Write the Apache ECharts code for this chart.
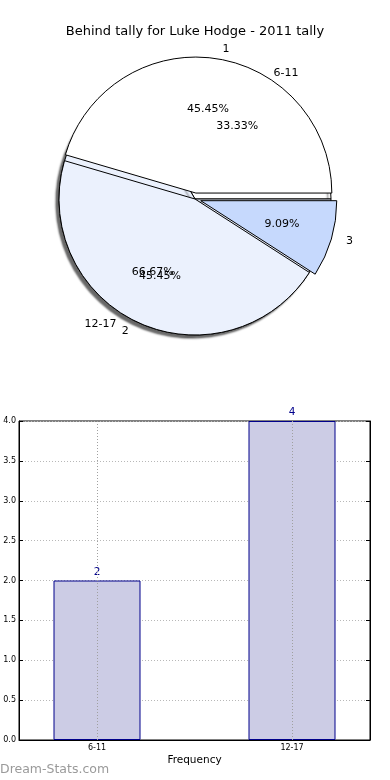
<!DOCTYPE html>
<html>
<head>
<meta charset="utf-8">
<script src="https://cdn.jsdelivr.net/npm/echarts@6/dist/echarts.min.js"></script>
<style>
html,body{margin:0;padding:0;background:#fff;}
#c{width:390px;height:780px;}
</style>
</head>
<body>
<div id="c"></div>
<script>
// Pie A: behind tally per game
var pieANames = ['1', '2', '3'];
var pieAValues = [5, 5, 1];
var pieAExplode = [true, false, true];
// Pie B: frequency groups
var groupNames = ['6-11', '12-17'];
var groupValues = [2, 4];
// Bar chart
var barPositions = [0, 1];
var yTicks = [0, 0.5, 1, 1.5, 2, 2.5, 3, 3.5, 4];

var pieColors = ['#ffffff', '#ebf1fd', '#c6d9fd'];
var FONT = 'DejaVu Sans';
var CX = 195, CY = 199, R = 136;
var YMIN = yTicks[0], YMAX = yTicks[yTicks.length - 1];

function pct(v, arr) {
  var s = arr.reduce(function (a, b) { return a + b; }, 0);
  return (v / s * 100).toFixed(2) + '%';
}

var pieBData = groupNames.map(function (n, i) {
  return { name: n, value: groupValues[i], itemStyle: { color: pieColors[i] } };
});
var pieAData = pieANames.map(function (n, i) {
  return { name: n, value: pieAValues[i], selected: pieAExplode[i], itemStyle: { color: pieColors[i] } };
});

var outsideLabel = {
  show: true, position: 'outside', formatter: '{b}', color: '#000',
  fontFamily: FONT, fontSize: 11
};
var commonPie = {
  type: 'pie', center: [CX, CY], startAngle: 0, clockwise: false,
  avoidLabelOverlap: false, animation: false, silent: true,
  labelLine: { show: false, length: 9, length2: 1 },
  labelLayout: { hideOverlap: false },
  emphasis: { disabled: true }
};

var option = {
  animation: false,
  title: {
    text: 'Behind tally for Luke Hodge - 2011 tally',
    left: 'center', top: 20,
    textStyle: { fontFamily: FONT, fontSize: 13, fontWeight: 'normal', color: '#000' }
  },
  graphic: [{
    type: 'text', left: 0, top: 763,
    style: { text: 'Dream-Stats.com', fontFamily: FONT, fontSize: 12.5, fontWeight: 'normal', fill: '#9a9a9a' }
  }],
  grid: { left: 19, right: 20, top: 421, bottom: 40, show: true, borderColor: '#000', borderWidth: 1, backgroundColor: 'transparent' },
  xAxis: {
    type: 'value', min: -0.4, max: 1.4,
    name: 'Frequency', nameLocation: 'middle', nameGap: 15,
    nameTextStyle: { fontFamily: FONT, fontSize: 10.5, color: '#000' },
    axisLine: { show: true, onZero: false, lineStyle: { color: '#000' } },
    axisTick: { show: true, inside: true, length: 4, customValues: barPositions, lineStyle: { color: '#000' } },
    axisLabel: {
      show: true, customValues: barPositions, fontFamily: FONT, fontSize: 8, color: '#000', margin: 4,
      formatter: function (v) { var i = barPositions.indexOf(Math.round(v)); return i >= 0 ? groupNames[i] : ''; }
    },
    splitLine: { show: false }
  },
  yAxis: [{
    type: 'value', min: YMIN, max: YMAX, interval: 0.5,
    axisLine: { show: true, onZero: false, lineStyle: { color: '#000' } },
    axisTick: { show: true, inside: true, length: 4, lineStyle: { color: '#000' } },
    axisLabel: { fontFamily: FONT, fontSize: 8, color: '#000', margin: 3, formatter: function (v) { return v.toFixed(1); } },
    splitLine: { show: true, lineStyle: { color: '#b8b8b8', type: [1, 2], width: 1 } }
  }, {
    type: 'value', min: YMIN, max: YMAX, interval: 0.5, position: 'right',
    axisLine: { show: true, onZero: false, lineStyle: { color: '#000' } },
    axisTick: { show: true, inside: true, length: 4, lineStyle: { color: '#000' } },
    axisLabel: { show: false },
    splitLine: { show: false }
  }],
  series: [
    Object.assign({}, commonPie, {
      name: 'groups', radius: R, data: pieBData,
      label: outsideLabel,
      itemStyle: { borderColor: '#000', borderWidth: 1, shadowColor: 'rgba(0,0,0,0.6)', shadowBlur: 2, shadowOffsetX: -3, shadowOffsetY: 3 }
    }),
    Object.assign({}, commonPie, {
      name: 'tally', radius: R, data: pieAData, selectedMode: 'multiple', selectedOffset: 6,
      label: outsideLabel,
      itemStyle: { borderColor: '#000', borderWidth: 1 }
    }),
    Object.assign({}, commonPie, {
      name: 'groupsPct', radius: R * 1.2, data: groupValues.map(function (v, i) {
        return { name: groupNames[i], value: v };
      }),
      itemStyle: { color: 'rgba(0,0,0,0)', borderWidth: 0 },
      label: { show: true, position: 'inside', color: '#000', fontFamily: FONT, fontSize: 11,
        formatter: function (p) { return pct(p.value, groupValues); } }
    }),
    Object.assign({}, commonPie, {
      name: 'tallyPct', radius: R * 1.2, selectedMode: 'multiple', selectedOffset: 6,
      data: pieAValues.map(function (v, i) { return { name: pieANames[i], value: v, selected: pieAExplode[i] }; }),
      itemStyle: { color: 'rgba(0,0,0,0)', borderWidth: 0 },
      label: { show: true, position: 'inside', color: '#000', fontFamily: FONT, fontSize: 11,
        formatter: function (p) { return pct(p.value, pieAValues); } }
    }),
    {
      type: 'bar', xAxisIndex: 0, yAxisIndex: 0, barWidth: 87,
      data: barPositions.map(function (x, i) { return [x, groupValues[i]]; }),
      itemStyle: { color: '#ccccE5', borderColor: '#00008b', borderWidth: 1 },
      label: { show: true, position: 'top', distance: 3, color: '#00008b', fontFamily: FONT, fontSize: 10.5,
        formatter: function (p) { return String(p.value[1]); } },
      markLine: {
        silent: true, symbol: 'none', label: { show: false },
        lineStyle: { color: '#a0a0a0', type: [1, 2], width: 1, opacity: 1 },
        emphasis: { disabled: true },
        data: barPositions.map(function (x) { return [{ coord: [x, YMIN] }, { coord: [x, YMAX] }]; })
      },
      emphasis: { disabled: true }
    }
  ]
};

var chart = echarts.init(document.getElementById('c'), null, { renderer: 'canvas' });
chart.setOption(option);
</script>
</body>
</html>
